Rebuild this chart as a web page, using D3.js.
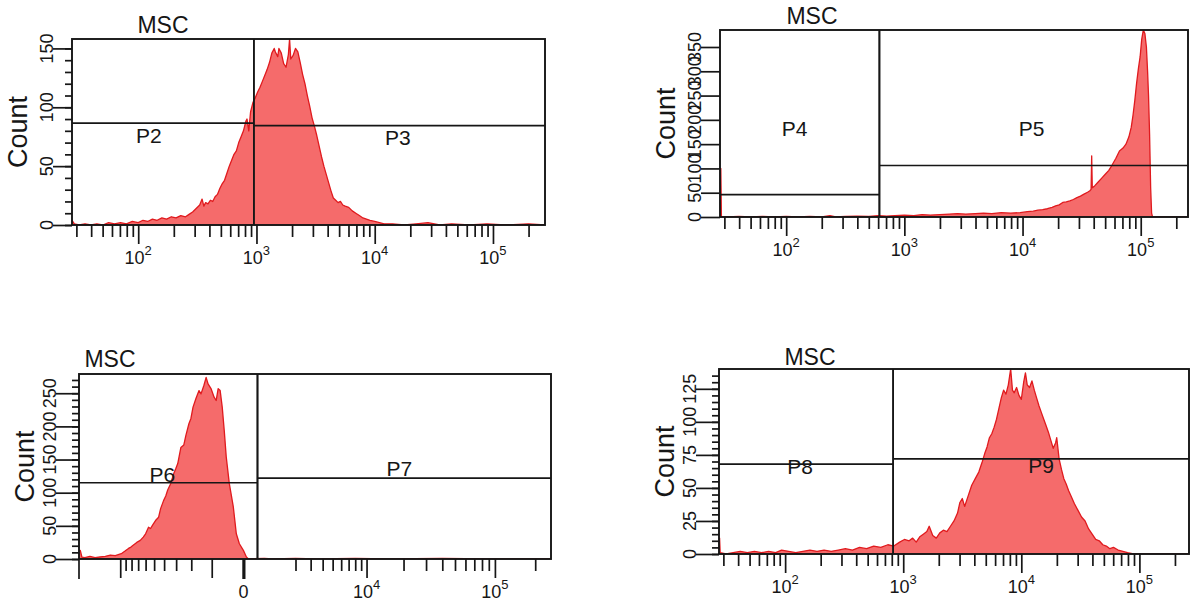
<!DOCTYPE html>
<html>
<head>
<meta charset="utf-8">
<script src="https://cdn.jsdelivr.net/npm/d3@7"></script>
<style>
  html, body { margin: 0; padding: 0; background: #fff; }
  svg { display: block; font-family: "Liberation Sans", Arial, sans-serif; }
</style>
</head>
<body>
<svg id="chart" width="1193" height="604"></svg>
<script>
// ---------------- data ----------------
const panelTitle = "MSC";
const yAxisTitle = "Count";

// Log-scale histograms: [log10 intensity, events]
const histA = [
  [1.44,4],[1.46,1],[1.50,0],[1.55,1],[1.60,0],[1.65,1],[1.70,0],[1.75,2],[1.80,1],[1.85,2],
  [1.90,1],[1.95,3],[2.00,2],[2.04,4],[2.08,3],[2.12,5],[2.16,4],[2.20,6],[2.24,5],[2.28,7],
  [2.32,6],[2.36,8],[2.40,7],[2.43,9],[2.46,11],[2.49,14],[2.52,17],[2.54,22],[2.555,16],[2.57,19],
  [2.59,18],[2.61,21],[2.63,20],[2.65,24],[2.67,26],[2.69,31],[2.71,35],[2.73,38],[2.75,44],[2.77,50],
  [2.79,55],[2.81,60],[2.83,63],[2.85,70],[2.87,75],[2.89,80],[2.91,88],[2.92,90],[2.935,80],[2.95,96],
  [2.97,104],[2.99,108],[3.01,113],[3.03,117],[3.05,122],[3.07,127],[3.09,132],[3.11,138],[3.13,146],[3.15,150],
  [3.16,147],[3.18,143],[3.19,150],[3.21,146],[3.23,137],[3.25,134],[3.27,145],[3.28,158],[3.29,141],[3.31,144],
  [3.33,150],[3.35,147],[3.37,138],[3.39,128],[3.41,120],[3.43,110],[3.45,101],[3.47,91],[3.49,84],[3.51,76],
  [3.53,67],[3.55,58],[3.57,50],[3.59,43],[3.61,36],[3.63,29],[3.65,23],[3.67,21],[3.69,19],[3.71,20],
  [3.73,17],[3.75,16],[3.78,15],[3.81,12],[3.84,10],[3.87,8],[3.90,6],[3.93,5],[3.96,4],[4.00,3],
  [4.04,2],[4.08,1],[4.15,1],[4.25,0],[4.35,1],[4.45,2],[4.55,0],[4.65,1],[4.80,0],[4.95,1],
  [5.10,0],[5.30,1],[5.44,0]
];

const histB = [
  [1.44,100],[1.447,100],[1.452,0],[1.50,0],[1.60,1],[1.70,0],[1.80,1],[1.90,0],[2.00,1],[2.10,0],
  [2.20,1],[2.30,0],[2.37,3],[2.42,0],[2.50,1],[2.60,2],[2.70,1],[2.78,3],[2.85,2],[2.92,3],
  [3.00,4],[3.08,3],[3.15,5],[3.22,4],[3.30,5],[3.38,6],[3.45,7],[3.52,6],[3.60,7],[3.67,8],
  [3.74,7],[3.82,9],[3.90,8],[3.98,9],[4.04,11],[4.09,12],[4.13,14],[4.17,15],[4.21,17],[4.25,20],
  [4.28,23],[4.31,25],[4.34,30],[4.37,31],[4.40,33],[4.43,36],[4.46,40],[4.49,43],[4.52,47],[4.55,51],
  [4.57,54],[4.58,57],[4.585,126],[4.59,60],[4.61,64],[4.64,72],[4.67,80],[4.70,88],[4.73,96],[4.76,108],
  [4.79,121],[4.82,136],[4.85,142],[4.875,150],[4.90,165],[4.92,185],[4.935,210],[4.95,240],[4.965,275],[4.98,305],
  [4.995,330],[5.008,365],[5.022,385],[5.035,378],[5.048,350],[5.058,300],[5.066,250],[5.075,170],[5.084,60],[5.092,8],
  [5.10,0],[5.20,0],[5.40,0]
];

// Biexponential-scale histogram: [intensity, events]
const histC = [
  [-21600,13],[-21100,13],[-20500,3],[-19400,2],[-17700,4],[-16100,2],[-14700,3],[-13300,4],[-12100,6],[-11000,5],
  [-9800,8],[-9100,12],[-8500,16],[-8100,18],[-7700,21],[-7200,25],[-6700,28],[-6300,33],[-6000,38],[-5640,48],
  [-5400,46],[-5170,51],[-4850,58],[-4530,63],[-4330,76],[-4050,88],[-3850,95],[-3680,104],[-3420,114],[-3180,129],
  [-3030,136],[-2880,144],[-2660,168],[-2460,172],[-2330,186],[-2140,204],[-2020,212],[-1900,229],[-1740,242],[-1580,254],
  [-1480,249],[-1340,262],[-1240,274],[-1155,264],[-1030,257],[-905,244],[-826,239],[-751,257],[-679,254],[-607,229],
  [-540,194],[-475,154],[-380,114],[-263,79],[-179,38],[-99,23],[0,13],[74,3],[126,0],[600,1],
  [900,0],[2000,1],[3500,0],[8000,1],[15000,0],[40000,1],[90000,0],[262144,0]
];

const histD = [
  [1.44,12],[1.445,12],[1.45,1],[1.50,0],[1.56,1],[1.62,2],[1.68,1],[1.74,2],[1.80,1],[1.86,2],
  [1.92,1],[1.97,3],[2.03,2],[2.09,1],[2.15,2],[2.21,3],[2.27,2],[2.33,3],[2.39,2],[2.45,3],
  [2.51,4],[2.57,3],[2.63,5],[2.69,4],[2.75,6],[2.81,5],[2.87,7],[2.92,6],[2.97,9],[3.01,11],
  [3.05,10],[3.08,12],[3.11,9],[3.14,13],[3.17,15],[3.20,17],[3.22,21],[3.25,14],[3.28,12],[3.31,16],
  [3.34,18],[3.37,17],[3.40,21],[3.43,25],[3.46,31],[3.48,39],[3.50,42],[3.52,36],[3.55,44],[3.58,52],
  [3.61,57],[3.64,62],[3.67,70],[3.69,76],[3.71,81],[3.73,88],[3.75,91],[3.77,96],[3.79,102],[3.81,110],
  [3.83,118],[3.85,124],[3.87,121],[3.89,128],[3.91,140],[3.925,124],[3.94,122],[3.96,126],[3.98,120],[4.00,117],
  [4.02,130],[4.035,137],[4.05,128],[4.07,126],[4.09,131],[4.11,124],[4.13,118],[4.15,112],[4.17,107],[4.19,102],
  [4.21,97],[4.23,92],[4.25,86],[4.27,80],[4.29,84],[4.30,88],[4.32,72],[4.34,64],[4.36,57],[4.38,53],
  [4.40,48],[4.42,44],[4.45,38],[4.48,33],[4.51,28],[4.54,25],[4.57,19],[4.60,15],[4.63,11],[4.66,10],
  [4.69,7],[4.72,6],[4.75,4],[4.78,5],[4.82,3],[4.86,2],[4.90,1],[4.95,0],[5.10,0],[5.30,0],
  [5.42,0]
];

// Interval gates: intensity bounds and marker height (events)
const gatesA = [{name:"P2", lo:1, hi:950, level:86.5}, {name:"P3", lo:950, hi:3e5, level:84.5}];
const gatesB = [{name:"P4", lo:1, hi:615, level:46},   {name:"P5", lo:615, hi:3e5, level:106}];
const gatesC = [{name:"P6", lo:-3e4, hi:380, level:115}, {name:"P7", lo:380, hi:3e5, level:122}];
const gatesD = [{name:"P8", lo:1, hi:822, level:68},   {name:"P9", lo:822, hi:3e5, level:72}];

// Y tick values
const yTicksA = [0, 50, 100, 150];
const yTicksB = [0, 50, 100, 150, 200, 250, 300, 350];
const yTicksC = [0, 50, 100, 150, 200, 250];
const yTicksD = [0, 25, 50, 75, 100, 125];

// X tick values
const logMajor = [1e2, 1e3, 1e4, 1e5];
const logMinor = [];
[10, 100, 1000, 10000, 100000].forEach(dec => {
  for (let k = 2; k <= 9; k++) { const v = dec * k; if (v >= 27.6 && v <= 2.5e5) logMinor.push(v); }
});
const biexMajor = [-1e4, -1e3, 1e4, 1e5];
const biexMinor = [];
[-1000, 1000, 10000, 100000].forEach(dec => {
  for (let k = 2; k <= 9; k++) { const v = dec * k; if (v < 2.6e5) biexMinor.push(v); }
});
const biexLabels = [{v:0, base:"0", exp:""}, {v:1e4, base:"10", exp:"4"}, {v:1e5, base:"10", exp:"5"}];

// axis ranges
const logMinExp = 1.44;
const biexDomain = [-21600, 262144];
const biexConstant = 1400;

// ---------------- layout ----------------
const layout = [
  { hist: histA, kind: "log", gates: gatesA, yTicks: yTicksA, yMax: 158, yMinor: 10, xMaxExp: 5.44,
    frame: [72, 39, 545, 225], yTickLen: 19, title: [163, 33], nudge: [[-14, 20], [-1.5, 19]] },
  { hist: histB, kind: "log", gates: gatesB, yTicks: yTicksB, yMax: 385, yMinor: null, xMaxExp: 5.40,
    frame: [720, 30, 1188, 217], yTickLen: 19, title: [812, 24], nudge: [[-5, -59], [-2, -30]] },
  { hist: histC, kind: "biex", gates: gatesC, yTicks: yTicksC, yMax: 279, yMinor: 10,
    frame: [79, 374, 551, 559], yTickLen: 23, title: [110, 367], nudge: [[-6, -1], [-5, -2]] },
  { hist: histD, kind: "log", gates: gatesD, yTicks: yTicksD, yMax: 140, yMinor: 5, xMaxExp: 5.42,
    frame: [719, 369, 1189, 554], yTickLen: 23, title: [810, 365], nudge: [[-6, 10], [0, 14]] }
];

const ink = "#161616";
const fillRed = "#f56b6b";
const edgeRed = "#e01a1e";

const svg = d3.select("#chart");

layout.forEach((L, i) => {
  const [x0, y0, x1, y1] = L.frame;
  const xs = L.kind === "log"
    ? d3.scaleLog().domain([10 ** logMinExp, 10 ** L.xMaxExp]).range([x0, x1])
    : d3.scaleSymlog().constant(biexConstant).domain(biexDomain).range([x0, x1]);
  const gx = xs.copy().clamp(true);
  const ys = d3.scaleLinear().domain([0, L.yMax]).range([y1, y0]);
  const g = svg.append("g");

  // clip region for the histogram
  const clipId = "clip" + i;
  svg.append("defs").append("clipPath").attr("id", clipId)
    .append("rect").attr("x", x0).attr("y", y0).attr("width", x1 - x0).attr("height", y1 - y0);

  const pts = L.hist.map(([v, c]) => [L.kind === "log" ? 10 ** v : v, c]);
  const area = d3.area().x(d => xs(d[0])).y0(ys(0)).y1(d => ys(d[1])).curve(d3.curveLinear);
  const line = d3.line().x(d => xs(d[0])).y(d => ys(d[1])).curve(d3.curveLinear);

  const hg = g.append("g").attr("clip-path", `url(#${clipId})`);
  hg.append("path").attr("d", area(pts)).attr("fill", fillRed).attr("stroke", "none");
  hg.append("path").attr("d", line(pts)).attr("fill", "none").attr("stroke", edgeRed)
    .attr("stroke-width", 1.3).attr("stroke-linejoin", "round");

  // gate markers
  L.gates.forEach((gt, k) => {
    const a = gx(gt.lo), b = gx(gt.hi), yy = ys(gt.level);
    g.append("line").attr("x1", a).attr("x2", b).attr("y1", yy).attr("y2", yy)
      .attr("stroke", ink).attr("stroke-width", 1.7);
    [a, b].forEach(xx => {
      if (xx > x0 + 1 && xx < x1 - 1) {
        g.append("line").attr("x1", xx).attr("x2", xx).attr("y1", y0).attr("y2", y1)
          .attr("stroke", ink).attr("stroke-width", 1.7);
      }
    });
    const [dx, dy] = L.nudge[k];
    g.append("text").attr("x", (a + b) / 2 + dx).attr("y", yy + dy)
      .attr("text-anchor", "middle").attr("font-size", 21).attr("fill", ink).text(gt.name);
  });

  // frame
  g.append("rect").attr("x", x0).attr("y", y0).attr("width", x1 - x0).attr("height", y1 - y0)
    .attr("fill", "none").attr("stroke", ink).attr("stroke-width", 1.9);

  // x axis ticks
  const styleAxis = sel => {
    sel.select(".domain").remove();
    sel.selectAll("line").attr("stroke", ink).attr("stroke-width", 1.7);
  };
  const minorVals = L.kind === "log" ? logMinor : biexMinor;
  const majorVals = L.kind === "log" ? logMajor : biexMajor;
  g.append("g").attr("transform", `translate(0,${y1})`)
    .call(d3.axisBottom(xs).tickValues(minorVals).tickSize(12).tickFormat(""))
    .call(styleAxis);
  g.append("g").attr("transform", `translate(0,${y1})`)
    .call(d3.axisBottom(xs).tickValues(majorVals).tickSize(19).tickFormat(""))
    .call(styleAxis);
  if (L.kind === "biex") {
    g.append("g").attr("transform", `translate(0,${y1})`)
      .call(d3.axisBottom(xs).tickValues([0]).tickSize(20).tickFormat(""))
      .call(styleAxis)
      .selectAll("line").attr("stroke-width", 3.2);
    g.append("line").attr("x1", x0).attr("x2", x0).attr("y1", y1).attr("y2", y1 + 20)
      .attr("stroke", ink).attr("stroke-width", 1.7);
  }

  // x tick labels
  const labels = L.kind === "log"
    ? logMajor.map(v => ({v, base: "10", exp: String(Math.round(Math.log10(v)))}))
    : biexLabels;
  labels.forEach(lb => {
    const t = g.append("text").attr("x", xs(lb.v)).attr("y", y1 + 39)
      .attr("text-anchor", "middle").attr("font-size", 18).attr("fill", ink);
    t.append("tspan").text(lb.base);
    if (lb.exp) t.append("tspan").attr("dy", -9).attr("font-size", 13).text(lb.exp);
  });

  // y axis ticks
  if (L.yMinor) {
    g.append("g").attr("transform", `translate(${x0},0)`)
      .call(d3.axisLeft(ys).tickValues(d3.range(0, L.yMax, L.yMinor)).tickSize(7).tickFormat(""))
      .call(styleAxis);
  }
  g.append("g").attr("transform", `translate(${x0},0)`)
    .call(d3.axisLeft(ys).tickValues(L.yTicks).tickSize(L.yTickLen).tickFormat(""))
    .call(styleAxis);
  L.yTicks.forEach(v => {
    const bx = x0 - L.yTickLen, by = ys(v);
    g.append("text").attr("transform", `translate(${bx},${by}) rotate(-90)`)
      .attr("text-anchor", "middle").attr("font-size", 18).attr("fill", ink).text(v);
  });

  // axis title and panel title
  g.append("text").attr("transform", `translate(${x0 - 45},${(y0 + y1) / 2}) rotate(-90)`)
    .attr("text-anchor", "middle").attr("font-size", 27).attr("fill", ink).text(yAxisTitle);
  g.append("text").attr("x", L.title[0]).attr("y", L.title[1])
    .attr("text-anchor", "middle").attr("font-size", 23).attr("fill", ink).text(panelTitle);
});
</script>
</body>
</html>
